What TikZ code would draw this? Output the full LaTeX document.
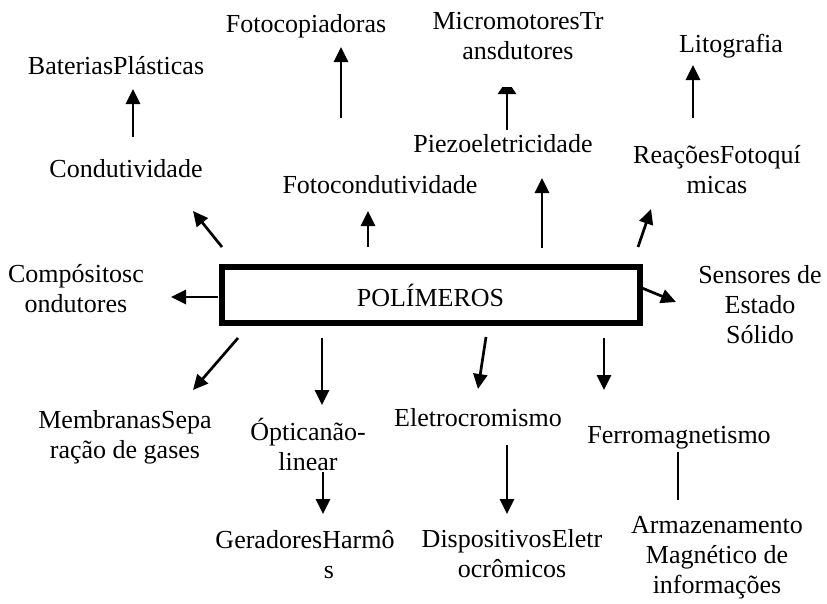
\documentclass[tikz,border=0pt]{standalone}
\usepackage{fontspec}
\setmainfont{Liberation Serif}
\usetikzlibrary{arrows.meta}
\begin{document}
\begin{tikzpicture}[x=1pt,y=-1pt,
  lbl/.style={anchor=base,align=center,inner sep=0pt,font=\fontsize{26}{30}\selectfont},
  arr/.style={line width=2.7pt,-{Triangle[length=15pt,width=14pt]}},
  plain/.style={line width=2.7pt}]
\useasboundingbox (0,0) rectangle (827,603);
% main box
\node[draw,line width=6pt,minimum width=418pt,minimum height=56pt,inner sep=0pt,
      font=\fontsize{26}{30}\selectfont] (box) at (430.5,295) {POLÍMEROS};
% labels (anchor base = baseline of last line)
\node[lbl] (bat)    at (116,74)  {BateriasPlásticas};
\node[lbl] (foto)   at (306,32)  {Fotocopiadoras};
\node[lbl] (cond)   at (126,177) {Condutividade};
\node[lbl] (fcond)  at (380,193) {Fotocondutividade};
\node[lbl] (micro)  at (518,59)  {MicromotoresTr\\ansdutores};
\node[lbl] (lito)   at (731,52)  {Litografia};
\node[lbl] (piezo)  at (503,152) {Piezoeletricidade};
\node[lbl] (reac)   at (717,193) {ReaçõesFotoquí\\micas};
\node[lbl] (comp)   at (76,312)  {Compósitosc\\ondutores};
\node[lbl] (sens)   at (760,343) {Sensores de\\Estado\\Sólido};
\node[lbl] (memb)   at (125,458) {MembranasSepa\\ração de gases};
\node[lbl] (opt)    at (308,470) {Ópticanão-\\linear};
\node[lbl] (eletro) at (478,426) {Eletrocromismo};
\node[lbl] (ferro)  at (679,443) {Ferromagnetismo};
\node[lbl] (ger)    at (305,578) {GeradoresHarmô\\\hspace*{48pt}s};
\node[lbl] (disp)   at (512,577) {DispositivosEletr\\ocrômicos};
\node[lbl] (arm)    at (717,593) {Armazenamento\\Magnético de\\informações};
% connector end points
\coordinate (c1a) at (222,247); \coordinate (c1b) at (193,211);
\coordinate (c2a) at (368,247); \coordinate (c2b) at (368,211);
\coordinate (c3a) at (218,297); \coordinate (c3b) at (171,297);
\coordinate (c4a) at (238,338); \coordinate (c4b) at (193,390);
\coordinate (c5a) at (322,338); \coordinate (c5b) at (322,405);
\coordinate (c6a) at (486,337); \coordinate (c6b) at (478,389);
\coordinate (c7a) at (604,338); \coordinate (c7b) at (604,390);
\coordinate (c8a) at (642,288); \coordinate (c8b) at (676,302);
\coordinate (c9a) at (542,248); \coordinate (c9b) at (542,178);
\coordinate (c10a) at (638,247); \coordinate (c10b) at (651,209);
\coordinate (c11a) at (693,118); \coordinate (c11b) at (693,65);
\coordinate (c12a) at (507,130); \coordinate (c12b) at (507,80);
\coordinate (c13a) at (341,118); \coordinate (c13b) at (341,47);
\coordinate (c14a) at (133,137); \coordinate (c14b) at (133,89);
\coordinate (c15a) at (323,472); \coordinate (c15b) at (323,514);
\coordinate (c16a) at (507,445); \coordinate (c16b) at (507,514);
\coordinate (c17a) at (678,452); \coordinate (c17b) at (678,500);
% connectors
\draw[arr] (c1a) -- (c1b);
\draw[arr] (c2a) -- (c2b);
\draw[arr] (c3a) -- (c3b);
\draw[arr] (c4a) -- (c4b);
\draw[arr] (c5a) -- (c5b);
\draw[arr] (c6a) -- (c6b);
\draw[arr] (c7a) -- (c7b);
\draw[arr] (c8a) -- (c8b);
\draw[arr] (c9a) -- (c9b);
\draw[arr] (c10a) -- (c10b);
\draw[arr] (c11a) -- (c11b);
\begin{scope}
  \clip (480,87) rectangle (540,140);
  \draw[line width=2.7pt,-{Triangle[length=14pt,width=18pt]}] (c12a) -- (c12b);
\end{scope}
\draw[arr] (c13a) -- (c13b);
\draw[arr] (c14a) -- (c14b);
\draw[arr] (c15a) -- (c15b);
\draw[arr] (c16a) -- (c16b);
\draw[plain] (c17a) -- (c17b);
\end{tikzpicture}
\end{document}
